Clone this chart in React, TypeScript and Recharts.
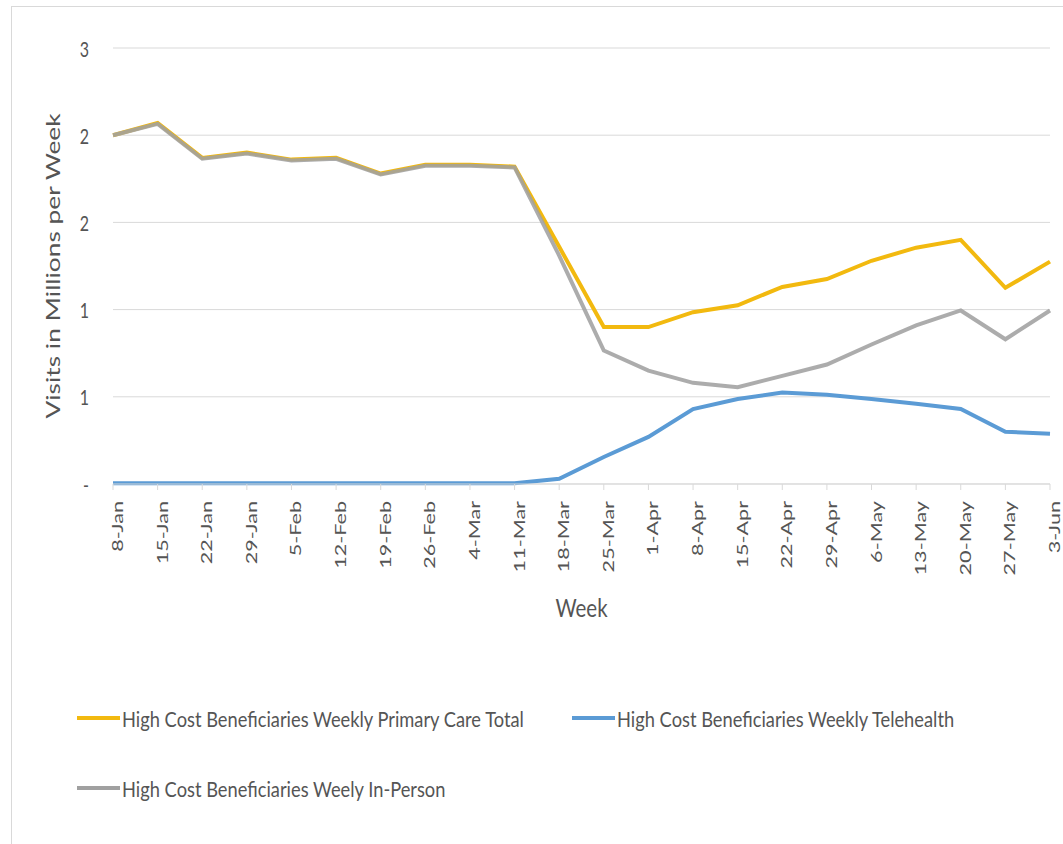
import { CartesianGrid, Legend, Line, LineChart, XAxis, YAxis } from 'recharts'

const weeks = [
  '8-Jan', '15-Jan', '22-Jan', '29-Jan', '5-Feb', '12-Feb', '19-Feb', '26-Feb',
  '4-Mar', '11-Mar', '18-Mar', '25-Mar', '1-Apr', '8-Apr', '15-Apr', '22-Apr',
  '29-Apr', '6-May', '13-May', '20-May', '27-May', '3-Jun',
]

// visits in millions per week
const primaryCareTotal = [
  2.0, 2.07, 1.87, 1.9, 1.86, 1.87, 1.78, 1.83, 1.83, 1.82, 1.36,
  0.9, 0.9, 0.985, 1.025, 1.13, 1.175, 1.28, 1.355, 1.4, 1.125, 1.275,
]
const telehealth = [
  0.005, 0.005, 0.005, 0.005, 0.005, 0.005, 0.005, 0.005, 0.005, 0.005, 0.03,
  0.155, 0.27, 0.43, 0.487, 0.525, 0.512, 0.487, 0.46, 0.43, 0.3, 0.288,
]
const inPerson = [
  2.0, 2.065, 1.865, 1.895, 1.855, 1.865, 1.775, 1.825, 1.825, 1.815, 1.31,
  0.765, 0.65, 0.58, 0.555, 0.62, 0.685, 0.8, 0.91, 0.995, 0.83, 0.995,
]

const yTicks = [0, 0.5, 1, 1.5, 2, 2.5]
const yTickLabels = ['-', '1', '1', '2', '2', '3']

const totalName = 'High Cost Beneficiaries Weekly Primary Care Total'
const telehealthName = 'High Cost Beneficiaries Weekly Telehealth'
const inPersonName = 'High Cost Beneficiaries Weely In-Person'

const data = weeks.map((week, i) => ({
  week,
  total: primaryCareTotal[i],
  telehealth: telehealth[i],
  inPerson: inPerson[i],
}))

const FONT = "Lato, 'Noto Sans', sans-serif"
const TEXT = '#555555'
const GRID = '#d9d9d9'
// the source image is stretched vertically, so text is too
const STRETCH = 1.35

function XTick({ x, y, payload }: any) {
  return (
    <text
      transform={`translate(${x + 10},${y + 9}) rotate(-90) scale(${STRETCH},1)`}
      textAnchor="end"
      fontSize={16}
      fontFamily={FONT}
      fill={TEXT}
    >
      {payload.value}
    </text>
  )
}

function YTick({ y, payload }: any) {
  const label = yTickLabels[yTicks.indexOf(payload.value)]
  return (
    <text
      transform={`translate(89,${y}) scale(1,${STRETCH})`}
      textAnchor="end"
      dominantBaseline="central"
      fontSize={16}
      fontFamily={FONT}
      fill={TEXT}
    >
      {label}
    </text>
  )
}

function YTitle({ viewBox }: any) {
  const { y, height } = viewBox
  return (
    <text
      transform={`translate(60,${y + height / 2}) rotate(-90) scale(${STRETCH},1)`}
      textAnchor="middle"
      fontSize={19.5}
      fontFamily={FONT}
      fill={TEXT}
    >
      Visits in Millions per Week
    </text>
  )
}

function XTitle({ viewBox }: any) {
  const { x, y, width } = viewBox
  return (
    <text
      transform={`translate(${x + width / 2},${y + 133}) scale(1,1.2)`}
      textAnchor="middle"
      fontSize={20.5}
      fontFamily={FONT}
      fill={TEXT}
    >
      Week
    </text>
  )
}

const legendSlots = [
  { x: 77, y: 38 },
  { x: 572, y: 38 },
  { x: 77, y: 108 },
]

function LegendBox({ payload }: any) {
  return (
    <svg width={1063} height={140}>
      {(payload || []).map((entry: any, i: number) => {
        const slot = legendSlots[i]
        return (
          <g key={entry.value}>
            <line
              x1={slot.x}
              x2={slot.x + 43}
              y1={slot.y}
              y2={slot.y}
              stroke={entry.color}
              strokeWidth={4}
            />
            <text
              transform={`translate(${slot.x + 45},${slot.y}) scale(1,1.18)`}
              dominantBaseline="central"
              fontSize={18.3}
              fontFamily={FONT}
              fill={TEXT}
            >
              {entry.value}
            </text>
          </g>
        )
      })}
    </svg>
  )
}

export default function App() {
  return (
    <div
      style={{
        position: 'absolute',
        left: 0,
        top: 0,
        width: 1063,
        height: 844,
        overflow: 'hidden',
        background: '#fff',
      }}
    >
      <div
        style={{
          position: 'absolute',
          left: 11,
          top: 6,
          width: 1100,
          height: 900,
          border: `1px solid ${GRID}`,
        }}
      />
      <LineChart
        width={1063}
        height={844}
        data={data}
        margin={{ top: 48, right: 13, bottom: 0, left: 0 }}
      >
        <CartesianGrid vertical={false} stroke={GRID} />
        <XAxis
          dataKey="week"
          interval={0}
          height={360}
          axisLine={{ stroke: GRID }}
          tickLine={{ stroke: GRID }}
          tickSize={6}
          tick={<XTick />}
          label={<XTitle />}
        />
        <YAxis
          width={113}
          domain={[0, 2.5]}
          ticks={yTicks}
          axisLine={false}
          tickLine={false}
          tick={<YTick />}
          label={<YTitle />}
        />
        <Legend
          layout="horizontal"
          verticalAlign="middle"
          wrapperStyle={{ position: 'absolute', left: 0, top: 680, width: 1063, height: 140 }}
          content={<LegendBox />}
        />
        <Line
          type="linear"
          dataKey="total"
          name={totalName}
          stroke="#f2b90f"
          strokeWidth={4}
          dot={false}
          isAnimationActive={false}
        />
        <Line
          type="linear"
          dataKey="telehealth"
          name={telehealthName}
          stroke="#5b9bd5"
          strokeWidth={4}
          dot={false}
          isAnimationActive={false}
        />
        <Line
          type="linear"
          dataKey="inPerson"
          name={inPersonName}
          stroke="#a0a0a0"
          strokeOpacity={0.88}
          strokeWidth={4}
          dot={false}
          isAnimationActive={false}
        />
      </LineChart>
    </div>
  )
}
